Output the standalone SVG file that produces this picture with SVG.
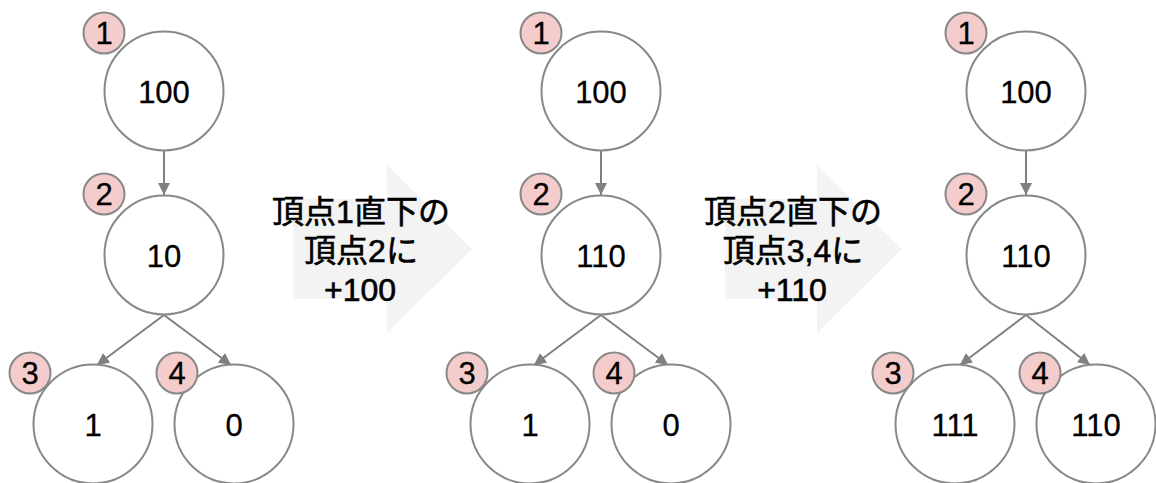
<svg xmlns="http://www.w3.org/2000/svg" width="1156" height="483" viewBox="0 0 1156 483">
<defs>
<marker id="ah" viewBox="0 0 12 12" refX="12" refY="6" markerWidth="12" markerHeight="12" markerUnits="userSpaceOnUse" orient="auto">
<path d="M0,0 L12,6 L0,12 Z" fill="#808080"/>
</marker>
</defs>
<style>
.node{fill:#ffffff;stroke:#888888;stroke-width:2}
.badge{fill:#f4cccc;stroke:#888888;stroke-width:2}
.t{font-family:"Liberation Sans",Arial,sans-serif;font-size:31px;fill:#000000;stroke:#000000;stroke-width:0.3;text-anchor:middle}
.lbl{font-family:"Liberation Sans","Noto Sans CJK JP",sans-serif;font-size:32px;fill:#000000;stroke:#000000;stroke-width:0.6;text-anchor:middle}
.edge{stroke:#808080;stroke-width:2;fill:none;marker-end:url(#ah)}
.step{fill:#f3f3f3}
</style>
<rect width="1156" height="483" fill="#ffffff"/>
<g id="steps">
<path class="step" d="M293,199 H387 V165 L472,249 L387,333 V299 H293 Z"/>
<path class="step" d="M725,199 H817 V165 L902,249 L817,333 V299 H725 Z"/>
</g>
<g id="connectors">
<line class="edge" x1="164" y1="151" x2="164" y2="195"/>
<line class="edge" x1="164" y1="315" x2="97" y2="365"/>
<line class="edge" x1="164" y1="315" x2="231" y2="365"/>
<line class="edge" x1="601" y1="151" x2="601" y2="195"/>
<line class="edge" x1="601" y1="315" x2="534" y2="365"/>
<line class="edge" x1="601" y1="315" x2="668" y2="365"/>
<line class="edge" x1="1026" y1="151" x2="1026" y2="195"/>
<line class="edge" x1="1026" y1="315" x2="960" y2="365"/>
<line class="edge" x1="1026" y1="315" x2="1090" y2="365"/>
</g>
<g id="labels">
<text class="lbl" x="361" y="223">頂点1直下の</text>
<text class="lbl" x="361" y="262">頂点2に</text>
<text class="lbl" x="360" y="301">+100</text>
<text class="lbl" x="793" y="223">頂点2直下の</text>
<text class="lbl" x="793" y="262">頂点3,4に</text>
<text class="lbl" x="792" y="301">+110</text>
</g>
<g id="t1n1"><circle class="node" cx="164" cy="91" r="59.5"/><text class="t" x="164" y="103">100</text></g>
<g id="t1n2"><circle class="node" cx="164" cy="255" r="59.5"/><text class="t" x="164" y="267">10</text></g>
<g id="t1n3"><circle class="node" cx="93" cy="424" r="59.5"/><text class="t" x="93" y="436">1</text></g>
<g id="t1n4"><circle class="node" cx="234" cy="424" r="59.5"/><text class="t" x="234" y="436">0</text></g>
<g id="t1b1"><circle class="badge" cx="104" cy="33" r="20.5"/><text class="t" x="104" y="44">1</text></g>
<g id="t1b2"><circle class="badge" cx="104" cy="194" r="20.5"/><text class="t" x="104" y="205">2</text></g>
<g id="t1b3"><circle class="badge" cx="30" cy="373" r="20.5"/><text class="t" x="30" y="384">3</text></g>
<g id="t1b4"><circle class="badge" cx="177" cy="373" r="20.5"/><text class="t" x="177" y="384">4</text></g>
<g id="t2n1"><circle class="node" cx="601" cy="91" r="59.5"/><text class="t" x="601" y="103">100</text></g>
<g id="t2n2"><circle class="node" cx="601" cy="255" r="59.5"/><text class="t" x="601" y="267">110</text></g>
<g id="t2n3"><circle class="node" cx="530" cy="424" r="59.5"/><text class="t" x="530" y="436">1</text></g>
<g id="t2n4"><circle class="node" cx="671" cy="424" r="59.5"/><text class="t" x="671" y="436">0</text></g>
<g id="t2b1"><circle class="badge" cx="541" cy="33" r="20.5"/><text class="t" x="541" y="44">1</text></g>
<g id="t2b2"><circle class="badge" cx="541" cy="194" r="20.5"/><text class="t" x="541" y="205">2</text></g>
<g id="t2b3"><circle class="badge" cx="467" cy="373" r="20.5"/><text class="t" x="467" y="384">3</text></g>
<g id="t2b4"><circle class="badge" cx="614" cy="373" r="20.5"/><text class="t" x="614" y="384">4</text></g>
<g id="t3n1"><circle class="node" cx="1026" cy="91" r="59.5"/><text class="t" x="1026" y="103">100</text></g>
<g id="t3n2"><circle class="node" cx="1026" cy="255" r="59.5"/><text class="t" x="1026" y="267">110</text></g>
<g id="t3n3"><circle class="node" cx="955" cy="424" r="59.5"/><text class="t" x="955" y="436">111</text></g>
<g id="t3n4"><circle class="node" cx="1096" cy="424" r="59.5"/><text class="t" x="1096" y="436">110</text></g>
<g id="t3b1"><circle class="badge" cx="966" cy="33" r="20.5"/><text class="t" x="966" y="44">1</text></g>
<g id="t3b2"><circle class="badge" cx="966" cy="194" r="20.5"/><text class="t" x="966" y="205">2</text></g>
<g id="t3b3"><circle class="badge" cx="893" cy="373" r="20.5"/><text class="t" x="893" y="384">3</text></g>
<g id="t3b4"><circle class="badge" cx="1040" cy="373" r="20.5"/><text class="t" x="1040" y="384">4</text></g>
</svg>
